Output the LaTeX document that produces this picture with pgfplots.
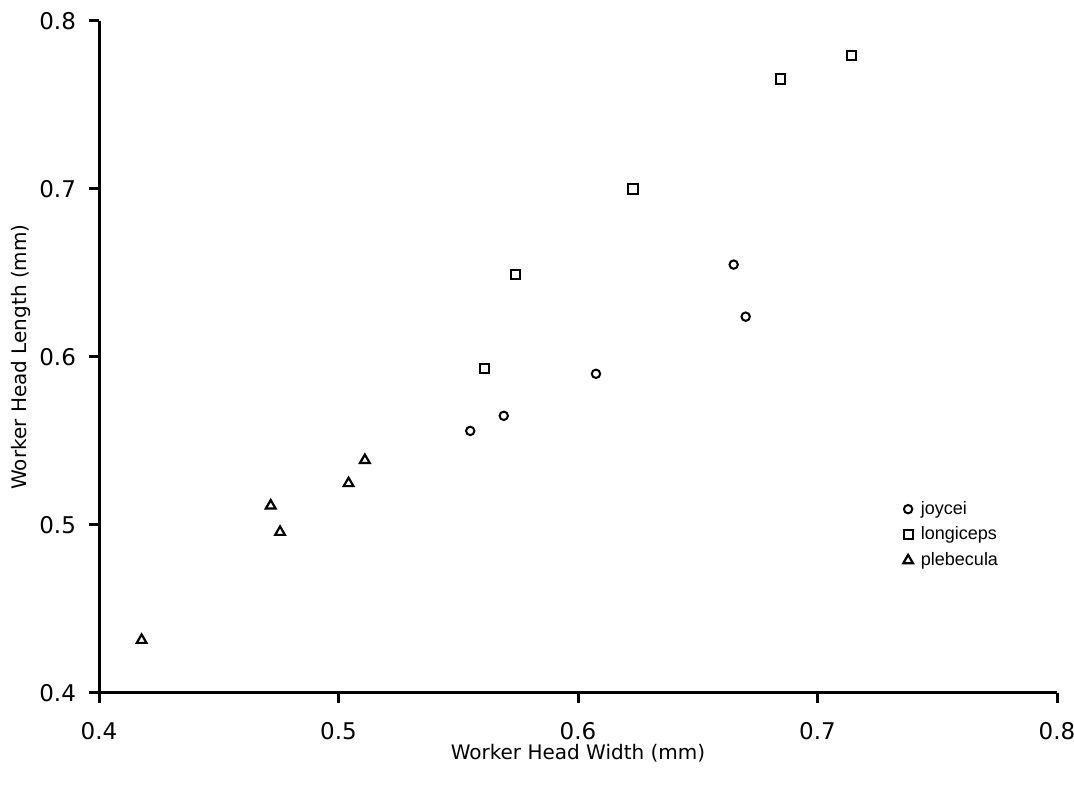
\documentclass[border=0pt]{standalone}
\usepackage{fontspec}
\setmainfont{DejaVu Sans}
\newfontfamily\legendfont{Liberation Sans}
\usepackage{pgfplots}
\pgfplotsset{compat=1.18}

\begin{document}
\begin{tikzpicture}
\path[use as bounding box] (-49.5pt,-46pt) rectangle (487.5pt,346.5pt);
\begin{axis}[
  width=479pt, height=336pt, scale only axis,
  xmin=0.4, xmax=0.8, ymin=0.4, ymax=0.8,
  axis lines*=left,
  axis line style={line width=1.5pt},
  xtick={0.4,0.5,0.6,0.7,0.8},
  ytick={0.4,0.5,0.6,0.7,0.8},
  tick align=outside,
  major tick length=5pt,
  tick style={line width=1.5pt, black},
  /pgf/number format/assume math mode=true,
  /pgf/number format/fixed,
  /pgf/number format/precision=1,
  /pgf/number format/fixed zerofill,
  tick label style={font=\fontsize{11.5}{13}\selectfont},
  xticklabel style={yshift=-6pt},
  yticklabel style={xshift=-3pt},
  label style={font=\fontsize{10}{12}\selectfont},
  xlabel={Worker Head Width (mm)},
  ylabel={Worker Head Length (mm)},
  xlabel style={at={(axis description cs:0.5,-0.089)}, anchor=center},
  ylabel style={at={(axis description cs:-0.0814,0.5)}, anchor=center},
  legend style={at={(axis description cs:0.837,0.295)}, anchor=north west,
    draw=none, fill=none, font=\legendfont\fontsize{9}{11}\selectfont,
    row sep=0.8pt, inner sep=1pt},
  legend cell align=left,
]
\addplot[only marks, mark=o, mark size=2.1pt, line width=1pt, black]
coordinates {(0.555,0.556) (0.569,0.565) (0.6075,0.590) (0.665,0.655) (0.670,0.624)};
\addlegendentry{\hspace{2pt}joycei}
\addplot[only marks, mark=square, mark size=2.3pt, line width=1pt, black]
coordinates {(0.561,0.593) (0.574,0.649) (0.623,0.700) (0.6846,0.7655) (0.7143,0.7796)};
\addlegendentry{\hspace{2pt}longiceps}
\addplot[only marks, mark=triangle, mark size=2.8pt, line width=1.1pt, black]
coordinates {(0.4178,0.4315) (0.4717,0.5115) (0.4756,0.4958) (0.5042,0.5248) (0.511,0.5386)};
\addlegendentry{\hspace{2pt}plebecula}
\end{axis}
\end{tikzpicture}
\end{document}
